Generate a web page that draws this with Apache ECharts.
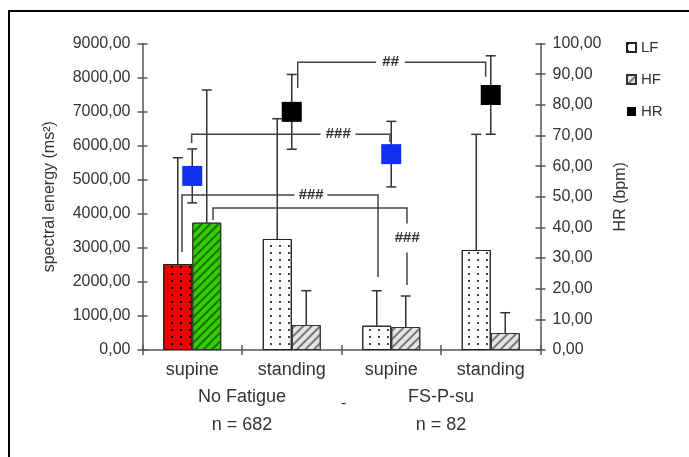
<!DOCTYPE html>
<html><head><meta charset="utf-8">
<script src="https://cdn.jsdelivr.net/npm/echarts@6/dist/echarts.min.js"></script>
<style>html,body{margin:0;padding:0;background:#fff}#c{width:689px;height:457px}</style>
</head><body><div id="c"></div>
<script>
// ---- data ----
const categories = ['supine', 'standing', 'supine', 'standing'];
const groupLabels = ['No Fatigue\nn = 682', 'FS-P-su\nn = 82'];
const lfValues   = [2525, 3260, 713, 2936];
const lfErrorTop = [5646, 6791, 1741, 6333];
const hfValues   = [3740, 734, 675, 499];
const hfErrorTop = [7634, 1741, 1585, 1095];
const hrValues   = [56.8, 77.7, 63.9, 83.2];
const hrError    = [8.8, 12.2, 10.7, 12.8];
const leftMax = 9000, leftStep = 1000;
const rightMax = 100, rightStep = 10;

// significance brackets (x in category units from category 0 centre, y in left-axis units)
const brackets = [
  {text: '##',  path: [[1.06, 7693], [1.06, 8448], [2.949, 8448], [2.949, 8025]], at: [1.992, 8448], pad: [3, 6]},
  {text: '###', path: [[-0.006, 6078], [-0.006, 6334], [1.987, 6334], [1.987, 6108]], at: [1.465, 6334], pad: [3, 5]},
  {text: '###', path: [[-0.103, 2878], [-0.103, 4551], [1.867, 4551], [1.867, 2144]], at: [1.193, 4551], pad: [3, 4]},
  {text: '###', path: [[0.2085, 3817], [0.2085, 4170], [2.158, 4170], [2.158, 1909]], at: [2.158, 3289], pad: [7, 2]}
];

// ---- styles ----
const FONT = '"Liberation Sans", Arial, sans-serif';
const TXT = '#333';
const AX = '#555';
const BAR_W = 29;
const dots = c => ({symbol: 'rect', symbolSize: 1, dashArrayX: [1.1, 7], dashArrayY: [1.1, 5], color: c});
const hatch = c => ({symbol: 'rect', symbolSize: 1, dashArrayX: [1, 0], dashArrayY: [1.3, 3.2], rotation: -Math.PI / 4, color: c});
const fmt = v => v.toFixed(2).replace('.', ',');

const chart = echarts.init(document.getElementById('c'), null, {renderer: 'canvas'});

function errBarLine(x, y1, y2, cap) {
  return [
    {type: 'line', shape: {x1: x, y1: y1, x2: x, y2: y2}, style: {stroke: '#333', lineWidth: 1.5}},
    {type: 'line', shape: {x1: x - cap, y1: y2, x2: x + cap, y2: y2}, style: {stroke: '#333', lineWidth: 1.5}}
  ];
}

const baseAxisY = {
  type: 'value', min: 0, splitLine: {show: false},
  axisLine: {show: true, lineStyle: {color: AX, width: 1.5}},
  axisTick: {show: true, length: 5, lineStyle: {color: AX, width: 1.5}},
};

const option = {
  animation: false,
  backgroundColor: '#fff',
  textStyle: {fontFamily: FONT},
  grid: {left: 142.5, right: 148.5, top: 43.5, bottom: 107, containLabel: false},
  legend: {
    orient: 'vertical', left: 621, top: 35, itemWidth: 9, itemHeight: 9, itemGap: 17,
    icon: 'rect', data: ['LF', 'HF', 'HR'],
    textStyle: {fontSize: 15, color: TXT, fontFamily: FONT}
  },
  xAxis: [
    {type: 'category', data: categories, position: 'bottom',
      axisLine: {show: true, lineStyle: {color: AX, width: 1.5}},
      axisTick: {show: true, length: 5, interval: 0, lineStyle: {color: AX, width: 1.5}},
      axisLabel: {margin: 10, fontSize: 18, lineHeight: 20, color: TXT, fontFamily: FONT, interval: 0}},
    {type: 'category', data: groupLabels, position: 'bottom', offset: 0,
      axisLine: {show: false}, axisTick: {show: false},
      axisLabel: {margin: 33, fontSize: 18, lineHeight: 28, color: TXT, fontFamily: FONT, interval: 0}},
    {type: 'category', data: categories, position: 'bottom', offset: 0,
      axisLine: {show: false}, axisLabel: {show: false},
      axisTick: {show: true, inside: true, length: 5, interval: 0, lineStyle: {color: AX, width: 1.5}}}
  ],
  yAxis: [
    Object.assign({}, baseAxisY, {position: 'left', max: leftMax, interval: leftStep,
      name: 'spectral energy (ms²)', nameLocation: 'middle', nameRotate: 90, nameGap: 93,
      nameTextStyle: {fontSize: 16, color: TXT, fontFamily: FONT, verticalAlign: 'middle'},
      axisLabel: {margin: 12, fontSize: 16, color: TXT, fontFamily: FONT, formatter: fmt}}),
    Object.assign({}, baseAxisY, {position: 'right', max: rightMax, interval: rightStep,
      name: 'HR (bpm)', nameLocation: 'middle', nameRotate: 90, nameGap: 80,
      nameTextStyle: {fontSize: 16, color: TXT, fontFamily: FONT, verticalAlign: 'middle'},
      axisLabel: {margin: 12, fontSize: 16, color: TXT, fontFamily: FONT, formatter: fmt}}),
    Object.assign({}, baseAxisY, {position: 'left', max: leftMax, interval: leftStep,
      axisLine: {show: false}, axisLabel: {show: false},
      axisTick: {show: true, inside: true, length: 5, lineStyle: {color: AX, width: 1.5}}}),
    Object.assign({}, baseAxisY, {position: 'right', max: rightMax, interval: rightStep,
      axisLine: {show: false}, axisLabel: {show: false},
      axisTick: {show: true, inside: true, length: 5, lineStyle: {color: AX, width: 1.5}}})
  ],
  graphic: [
    {type: 'rect', shape: {x: 9, y: 11, width: 900, height: 900}, style: {fill: 'none', stroke: '#000', lineWidth: 2}, z: 100},
    {type: 'text', left: 341, top: 396, style: {text: '-', font: '16px ' + FONT, fill: TXT}}
  ],
  series: [
    {name: 'LF', type: 'bar', xAxisIndex: 0, yAxisIndex: 0, barWidth: BAR_W, barGap: '0%',
      itemStyle: {color: '#fff', borderColor: '#222', borderWidth: 1, decal: dots('#444')},
      data: lfValues.map((v, i) => i === 0 ? {value: v, itemStyle: {color: '#f00000', decal: dots('#000')}} : v), z: 2},
    {name: 'HF', type: 'bar', xAxisIndex: 0, yAxisIndex: 0, barWidth: BAR_W, barGap: '0%',
      itemStyle: {color: '#e4e4e4', borderColor: '#333', borderWidth: 1, decal: hatch('#777')},
      data: hfValues.map((v, i) => i === 0 ? {value: v, itemStyle: {color: '#33cc00', decal: hatch('#1a7000')}} : v), z: 2},
    {type: 'custom', xAxisIndex: 0, yAxisIndex: 0, z: 3,
      data: categories.map((c, i) => [i, lfValues[i], lfErrorTop[i], hfValues[i], hfErrorTop[i]]),
      renderItem: (p, api) => {
        const i = api.value(0);
        const b1 = api.coord([i, api.value(1)]), t1 = api.coord([i, api.value(2)]);
        const b2 = api.coord([i, api.value(3)]), t2 = api.coord([i, api.value(4)]);
        const off = BAR_W / 2;
        return {type: 'group', children: [
          ...errBarLine(b1[0] - off, b1[1], t1[1], 5),
          ...errBarLine(b2[0] + off, b2[1], t2[1], 5)
        ]};
      }},
    {type: 'custom', xAxisIndex: 0, yAxisIndex: 1, z: 4,
      data: categories.map((c, i) => [i, hrValues[i], hrError[i]]),
      renderItem: (p, api) => {
        const i = api.value(0), v = api.value(1), e = api.value(2);
        const hi = api.coord([i, v + e]), lo = api.coord([i, v - e]);
        return {type: 'group', children: [
          ...errBarLine(hi[0], lo[1], hi[1], 5),
          {type: 'line', shape: {x1: lo[0] - 5, y1: lo[1], x2: lo[0] + 5, y2: lo[1]}, style: {stroke: '#333', lineWidth: 1.5}}
        ]};
      }},
    {name: 'HR', type: 'scatter', xAxisIndex: 0, yAxisIndex: 1, symbol: 'rect', symbolSize: 20, z: 5,
      itemStyle: {color: '#000', opacity: 1},
      data: hrValues.map((v, i) => categories[i] === 'supine' ? {value: [i, v], itemStyle: {color: '#1030f0'}} : [i, v])},
    {type: 'custom', xAxisIndex: 0, yAxisIndex: 0, z: 6,
      data: brackets.map((b, i) => [i]),
      renderItem: (p, api) => {
        const b = brackets[p.dataIndex];
        const cw = api.size([1, 0])[0];
        const toPx = (pt) => { const c = api.coord([0, pt[1]]); return [c[0] + pt[0] * cw, c[1]]; };
        const pts = b.path.map(toPx);
        const tp = toPx(b.at);
        return {type: 'group', children: [
          {type: 'polyline', shape: {points: pts}, style: {stroke: '#444', lineWidth: 1.5, fill: 'none'}},
          {type: 'text', x: tp[0], y: tp[1], z2: 10, style: {text: b.text, fill: '#333',
            font: 'italic bold 15px ' + FONT, align: 'center', verticalAlign: 'middle',
            backgroundColor: '#fff', padding: b.pad}}
        ]};
      }}
  ]
};
chart.setOption(option);
</script></body></html>
